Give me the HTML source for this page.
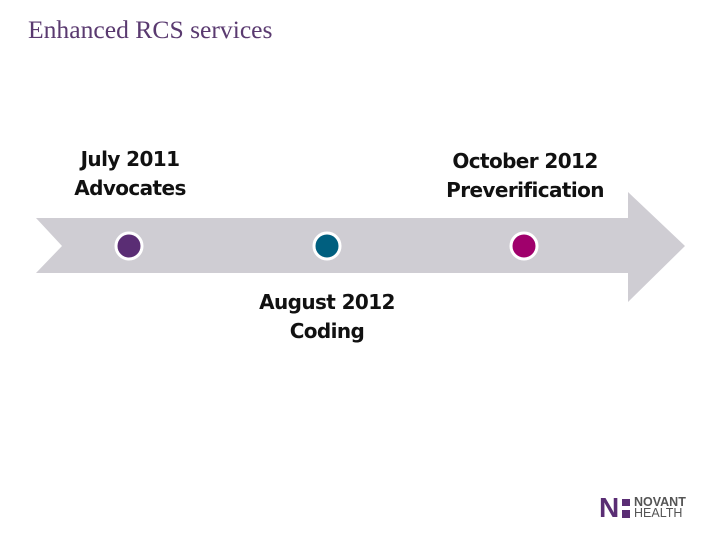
<!DOCTYPE html>
<html><head><meta charset="utf-8"><style>
body{margin:0;width:720px;height:540px;background:#fff;overflow:hidden;position:relative;font-family:"Liberation Sans","DejaVu Sans",sans-serif}
.t{position:absolute;text-align:center;font-size:20px;line-height:29px;color:#111;font-family:"DejaVu Sans","Liberation Sans",sans-serif;font-weight:bold;letter-spacing:-0.6px}
</style></head><body>
<div style="position:absolute;left:28px;top:15px;font-family:'Liberation Serif',serif;font-size:25.6px;color:#5a3a70">Enhanced RCS services</div>
<svg width="720" height="540" style="position:absolute;left:0;top:0">
<polygon points="36,218 628,218 628,192 685,246 628,302 628,273 36,273 62,246" fill="#cfcdd3"/>
<circle cx="129" cy="246" r="13" fill="#5a2d74" stroke="#fff" stroke-width="3"/>
<circle cx="327" cy="246" r="13" fill="#005f7f" stroke="#fff" stroke-width="3"/>
<circle cx="524" cy="246" r="13" fill="#a0006c" stroke="#fff" stroke-width="3"/>
</svg>
<div class="t" style="left:30px;width:200px;top:145px">July 2011<br>Advocates</div>
<div class="t" style="left:415px;width:220px;top:147px">October 2012<br>Preverification</div>
<div class="t" style="left:217px;width:220px;top:288px">August 2012<br>Coding</div>
<div style="position:absolute;left:599px;top:496px;width:100px;height:24px">
<div style="position:absolute;left:0;top:0px;font-weight:bold;font-size:28px;line-height:24px;color:#5a2d74;font-family:'Liberation Sans',sans-serif">N</div>
<div style="position:absolute;left:23px;top:3px;width:8px;height:7px;background:#5a2d74"></div>
<div style="position:absolute;left:23px;top:14px;width:8px;height:8px;background:#5a2d74"></div>
<div style="position:absolute;left:35px;top:1px;font-size:12.5px;font-weight:bold;line-height:11px;color:#555">NOVANT</div>
<div style="position:absolute;left:35px;top:12px;font-size:12.5px;line-height:11px;color:#555">HEALTH</div>
</div>
</body></html>
